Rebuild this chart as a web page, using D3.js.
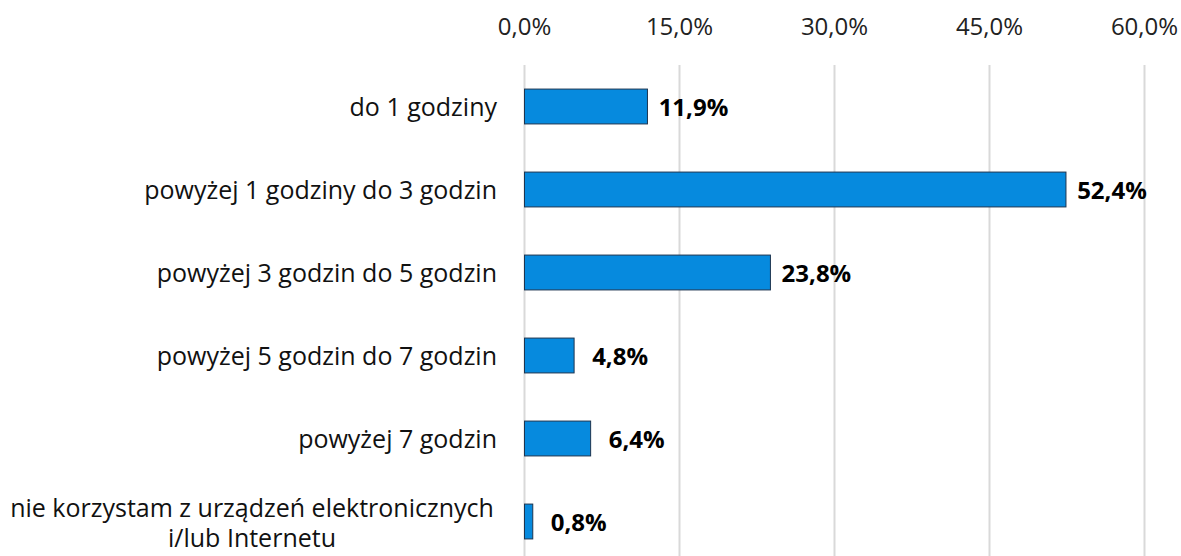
<!DOCTYPE html>
<html>
<head>
<meta charset="utf-8">
<script src="https://cdn.jsdelivr.net/npm/d3@7"></script>
<style>
  body { margin: 0; background: #fff; }
  text { font-family: "Open Sans", "Noto Sans", sans-serif; }
</style>
</head>
<body>
<div id="chart"></div>
<script>
// data
var categories = [
  ["do 1 godziny"],
  ["powyżej 1 godziny do 3 godzin"],
  ["powyżej 3 godzin do 5 godzin"],
  ["powyżej 5 godzin do 7 godzin"],
  ["powyżej 7 godzin"],
  ["nie korzystam z urządzeń elektronicznych", "i/lub Internetu"]
];
var values = [11.9, 52.4, 23.8, 4.8, 6.4, 0.8];
var ticks = [0, 15, 30, 45, 60];

var W = 1181, H = 556;
var plotLeft = 524.5, plotRight = 1144.5, plotTop = 65, plotBottom = 563;

var svg = d3.select("#chart").append("svg")
  .attr("width", W).attr("height", H);

var x = d3.scaleLinear().domain([0, 60]).range([plotLeft, plotRight]);
var y = d3.scaleBand().domain(d3.range(values.length))
  .range([plotTop, plotBottom]).paddingInner(0.58).paddingOuter(0.29);

var fmt = function(v) { return v.toFixed(1).replace(".", ",") + "%"; };

// gridlines
svg.append("g").selectAll("line")
  .data(ticks).enter().append("line")
  .attr("x1", d => x(d)).attr("x2", d => x(d))
  .attr("y1", plotTop).attr("y2", H)
  .attr("stroke", "#d9d9d9").attr("stroke-width", 2);

// tick labels on top
svg.append("g").selectAll("text")
  .data(ticks).enter().append("text")
  .attr("x", d => x(d)).attr("y", 35)
  .attr("text-anchor", "middle")
  .style("font-size", "24px").style("fill", "#222")
  .text(d => fmt(d));

// bars
svg.append("g").selectAll("rect")
  .data(values).enter().append("rect")
  .attr("x", x(0))
  .attr("y", (d, i) => y(i))
  .attr("width", d => x(d) - x(0))
  .attr("height", y.bandwidth())
  .attr("fill", "#068ade")
  .attr("stroke", "#1d3550").attr("stroke-width", 1);

// value labels
svg.append("g").selectAll("text")
  .data(values).enter().append("text")
  .attr("x", d => x(d) + 46)
  .attr("y", (d, i) => y(i) + y.bandwidth() / 2 + 9)
  .attr("text-anchor", "middle")
  .style("font-size", "24px").style("font-weight", "bold").style("fill", "#000")
  .text(d => fmt(d));

// category labels
var cat = svg.append("g").selectAll("text")
  .data(categories).enter().append("text")
  .attr("text-anchor", "middle")
  .style("font-size", "25px").style("fill", "#111");

cat.each(function(lines, i) {
  var t = d3.select(this);
  var cy = y(i) + y.bandwidth() / 2;
  if (lines.length === 1) {
    t.attr("text-anchor", "end");
    t.append("tspan").attr("x", 497).attr("y", cy + 9).text(lines[0]);
  } else {
    var cx = 252;
    lines.forEach(function(l, j) {
      t.append("tspan").attr("x", cx)
        .attr("y", cy + 10 + (j - (lines.length - 1) / 2) * 30)
        .text(l);
    });
  }
});
</script>
</body>
</html>
